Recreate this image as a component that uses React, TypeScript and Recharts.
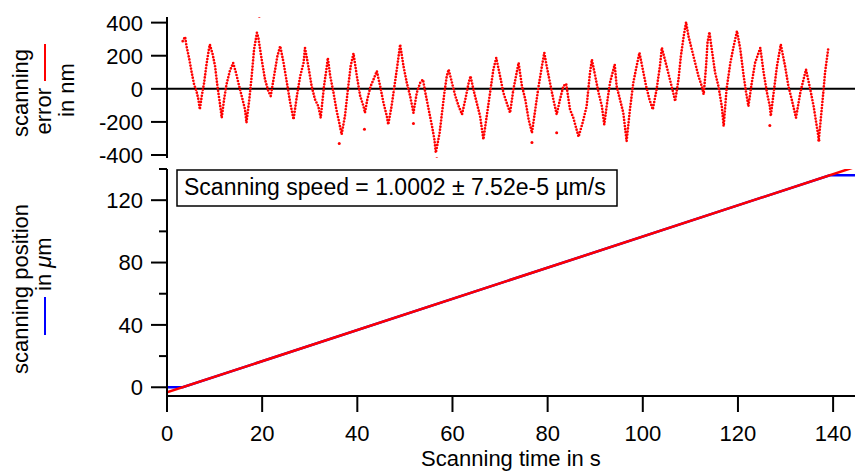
import React from 'react';
import { ComposedChart, Line, Scatter, XAxis, YAxis, ReferenceLine } from 'recharts';

const FONT = 'Liberation Sans, Arial, Helvetica, sans-serif';

// Scanning error (nm), time in s
const errorTimes = [
  3.3, 3.8, 4.1, 4.7, 5.2, 5.7, 6.2, 6.6, 6.9, 7.3, 7.8, 8.3, 8.8, 9.0, 9.6, 10.1, 10.6, 11.1, 11.5, 12.0,
  12.5, 13.2, 13.9, 14.5, 15.0, 15.7, 16.4, 16.7, 17.3, 17.8, 18.3, 18.9, 19.2, 19.9, 20.6, 21.3, 21.8, 22.5,
  23.2, 23.8, 24.5, 25.2, 25.9, 26.6, 27.3, 28.0, 28.7, 29.0, 29.7, 30.4, 31.1, 31.8, 32.3, 33.0, 33.6, 33.8,
  34.3, 35.0, 35.6, 36.2, 36.7, 37.4, 38.1, 38.6, 39.2, 39.9, 40.6, 41.3, 41.6, 42.1, 42.8, 43.4, 44.1, 44.8,
  45.5, 46.2, 46.5, 47.2, 47.9, 48.4, 49.0, 49.7, 50.4, 51.1, 51.8, 52.5, 53.2, 53.8, 54.3, 55.0, 55.7, 56.2,
  56.5, 57.3, 57.8, 58.3, 58.8, 59.2, 59.9, 60.6, 61.3, 62.0, 62.7, 63.4, 63.8, 64.4, 65.1, 65.8, 66.5, 67.2,
  67.9, 68.6, 69.2, 70.0, 70.7, 71.4, 72.1, 72.8, 73.9, 74.6, 75.3, 76.0, 76.7, 77.4, 78.1, 78.8, 79.3, 79.8,
  80.5, 81.2, 81.9, 82.6, 83.3, 83.9, 84.7, 85.4, 86.5, 87.4, 88.2, 88.9, 89.3, 90.0, 90.7, 91.4, 91.9, 92.6,
  93.1, 94.1, 94.5, 95.2, 95.9, 96.6, 97.3, 98.0, 98.7, 99.3, 100.0, 100.7, 101.4, 102.1, 102.9, 103.6, 104.0,
  105.0, 105.7, 106.4, 106.8, 107.5, 108.0, 108.6, 109.1, 109.6, 110.3, 111.0, 111.7, 112.4, 112.8, 113.3,
  113.6, 114.0, 114.5, 115.2, 115.9, 116.6, 117.0, 117.6, 118.4, 119.1, 119.8, 120.5, 121.2, 121.7, 122.2,
  122.9, 123.6, 124.7, 125.4, 126.1, 126.7, 126.9, 127.5, 128.2, 129.0, 129.9, 130.6, 131.3, 132.2, 133.1,
  134.3, 135.2, 135.9, 137.0, 137.6, 138.0, 138.3, 139.0,
];
const errorValues = [
  288, 314, 258, 177, 97, 26, -14, -64, -125, -44, 36, 147, 238, 268, 208, 137, 16, -85, -175, -64,
  26, 107, 157, 97, 36, -44, -125, -205, -64, 77, 238, 339, 308, 177, 56, -14, -44, 77,
  197, 258, 157, 36, -85, -185, -44, 77, 157, 248, 137, 16, -64, -105, -175, 16, 137, 187,
  77, -24, -125, -205, -276, -165, 16, 137, 214, 77, -44, -105, -145, -64, 16, 56, 107, 16,
  -85, -165, -216, -105, 36, 137, 268, 137, 36, -44, -145, -24, 36, 56, -24, -125, -226, -306,
  -387, -266, -145, -24, 77, 117, 36, -44, -105, -155, -64, 36, 77, -4, -85, -165, -306, -165,
  -24, 117, 187, 77, -24, -85, -145, -4, 157, 16, -64, -185, -266, -125, 16, 137, 218, 137,
  36, -64, -155, -64, 16, 30, -125, -175, -290, -200, -105, 97, 177, 77, -24, -105, -216, -64,
  36, 147, 16, -64, -145, -316, -125, 36, 137, 218, 117, 16, -64, -125, -4, 137, 248,
  137, 56, -24, -75, 56, 197, 318, 403, 318, 238, 157, 77, 16, -34, 137,
  278, 343, 238, 97, 16, -105, -226, -4, 157, 258, 349, 238, 77, -20, -105,
  36, 157, 248, 97, -24, -105, -165, -24, 137, 268, 137, 16, -64, -175, -24,
  117, -4, -105, -306, -125, -4, 97, 248,
];
const outlierTimes = [19.4, 36.2, 41.5, 51.8, 56.7, 76.7, 81.9, 126.7, 137.0];
const outlierValues = [439, -330, -245, -210, -423, -325, -265, -222, -310];

// Scanning position (µm)
const stageTimes = [0, 3.3, 139.3, 144.6];
const stageValues = [0, 0, 136, 136];
const fitTimes = [0, 144.6];
const fitValues = [-3.3, 141.3];

const errorTicks = [-400, -200, 0, 200, 400];
const positionTicks = [0, 20, 40, 60, 80, 100, 120, 140];
const positionMajorTicks = [0, 40, 80, 120];
const timeTicks = [0, 20, 40, 60, 80, 100, 120, 140];

const errorData = errorTimes.map((t, i) => ({ t, v: errorValues[i] }));
const outlierData = outlierTimes.map((t, i) => ({ t, v: outlierValues[i] }));
const stageData = stageTimes.map((t, i) => ({ t, p: stageValues[i] }));
const fitData = fitTimes.map((t, i) => ({ t, p: fitValues[i] }));

const YTick = (props: any) => {
  const { x, y, payload, majors } = props;
  const major = !majors || majors.includes(payload.value);
  const len = major ? 16 : 8;
  return (
    <g>
      <line x1={x - len} x2={x} y1={y} y2={y} stroke="#000" strokeWidth={2} />
      {major && (
        <text x={x - 24} y={y} dy="0.36em" textAnchor="end" fontSize={22} fontFamily={FONT} fill="#000">
          {payload.value}
        </text>
      )}
    </g>
  );
};

const Dot = (props: any) => <circle cx={props.cx} cy={props.cy} r={1.5} fill="#ff0000" />;

export default function App() {
  return (
    <div style={{ position: 'absolute', left: 0, top: 0, width: 855, height: 473, background: '#fff' }}>
      <div style={{ position: 'absolute', left: 0, top: 0 }}>
        <ComposedChart width={855} height={473} margin={{ top: 17, right: 0, bottom: 315, left: 0 }}>
          <XAxis type="number" dataKey="t" domain={[0, 144.6]} hide allowDataOverflow />
          <YAxis
            type="number"
            dataKey="v"
            domain={[-418, 434]}
            ticks={errorTicks}
            interval={0}
            width={167}
            tickSize={0}
            tickMargin={0}
            tick={<YTick />}
            axisLine={{ stroke: '#000', strokeWidth: 2 }}
            allowDataOverflow
          />
          <ReferenceLine y={0} stroke="#000" strokeWidth={2} />
          <Line
            data={errorData}
            dataKey="v"
            type="linear"
            stroke="#ff0000"
            strokeWidth={2.7}
            strokeDasharray="0 3.1"
            strokeLinecap="round"
            dot={false}
            isAnimationActive={false}
          />
          <Scatter data={outlierData} dataKey="v" shape={<Dot />} isAnimationActive={false} />
        </ComposedChart>
      </div>
      <div style={{ position: 'absolute', left: 0, top: 0 }}>
        <ComposedChart width={855} height={473} margin={{ top: 169, right: 0, bottom: 17, left: 0 }}>
          <XAxis
            type="number"
            dataKey="t"
            domain={[0, 144.6]}
            ticks={timeTicks}
            interval={0}
            height={60}
            tickSize={16}
            tickMargin={13}
            tick={{ fontSize: 22, fontFamily: FONT, fill: '#000' }}
            tickLine={{ stroke: '#000', strokeWidth: 2 }}
            axisLine={{ stroke: '#000', strokeWidth: 2 }}
            allowDataOverflow
          />
          <YAxis
            type="number"
            domain={[-5.6, 140]}
            ticks={positionTicks}
            interval={0}
            width={167}
            tickSize={0}
            tickMargin={0}
            tick={<YTick majors={positionMajorTicks} />}
            axisLine={{ stroke: '#000', strokeWidth: 2 }}
            allowDataOverflow
          />
          <Line data={stageData} dataKey="p" type="linear" stroke="#0000ff" strokeWidth={2.5} dot={false} isAnimationActive={false} />
          <Line data={fitData} dataKey="p" type="linear" stroke="#ff0000" strokeWidth={2.5} dot={false} isAnimationActive={false} />
        </ComposedChart>
      </div>
      <svg width={855} height={473} style={{ position: 'absolute', left: 0, top: 0, pointerEvents: 'none' }}>
        <g fontFamily={FONT} fontSize={22} fill="#000">
          <text transform="translate(28,93) rotate(-90)" textAnchor="middle">scanning</text>
          <text transform="translate(51,88) rotate(-90)" textAnchor="end">error</text>
          <line x1={45} x2={45} y1={44} y2={81} stroke="#ff0000" strokeWidth={2} />
          <text transform="translate(74,90) rotate(-90)" textAnchor="middle">in nm</text>

          <text transform="translate(28,289) rotate(-90)" textAnchor="middle">scanning position</text>
          <text transform="translate(51,291) rotate(-90)" textAnchor="start">
            in <tspan fontStyle="italic">μ</tspan>m
          </text>
          <line x1={45} x2={45} y1={297} y2={335} stroke="#0000ff" strokeWidth={2} />

          <text x={511} y={466} textAnchor="middle">Scanning time in s</text>

          <rect x={177} y={170} width={440} height={36} fill="#fff" stroke="#000" strokeWidth={1.5} />
          <text x={184} y={195} fontSize={23}>Scanning speed = 1.0002 ± 7.52e-5 µm/s</text>
        </g>
      </svg>
    </div>
  );
}
